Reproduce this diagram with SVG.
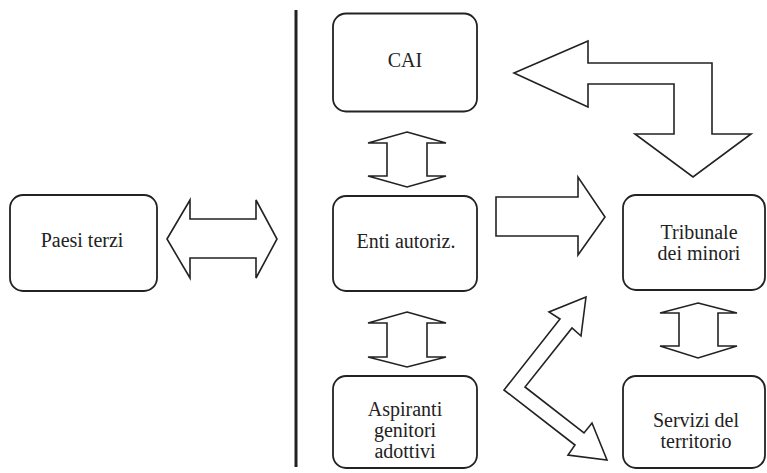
<svg xmlns="http://www.w3.org/2000/svg" width="767" height="473" viewBox="0 0 767 473">
<style>
.box{fill:#fff;stroke:#222;stroke-width:1.8}
.arr{fill:#fff;stroke:#222;stroke-width:1.6;stroke-linejoin:miter}
.t{font-family:'Liberation Serif','DejaVu Serif',serif;font-size:20px;fill:#222;text-anchor:middle}
</style>
<rect width="767" height="473" fill="#fff"/>
<line x1="296" y1="10" x2="296" y2="467" stroke="#222" stroke-width="3"/>
<g id="paesi"><rect class="box" x="10" y="195" width="147" height="96" rx="13"/><text class="t" x="82" y="247">Paesi terzi</text></g>
<g id="cai"><rect class="box" x="333" y="13.5" width="144" height="98" rx="13"/><text class="t" x="405" y="67">CAI</text></g>
<g id="enti"><rect class="box" x="333" y="196" width="144" height="95" rx="13"/><text class="t" x="406" y="248">Enti autoriz.</text></g>
<g id="aspiranti"><rect class="box" x="333" y="376" width="144" height="92" rx="13"/><text class="t" x="405" y="416">Aspiranti</text><text class="t" x="405" y="437">genitori</text><text class="t" x="405" y="458">adottivi</text></g>
<g id="tribunale"><rect class="box" x="623" y="195" width="142" height="95" rx="13"/><text class="t" x="699" y="239">Tribunale</text><text class="t" x="699" y="260">dei minori</text></g>
<g id="servizi"><rect class="box" x="623" y="376" width="142" height="92" rx="13"/><text class="t" x="696" y="427">Servizi del</text><text class="t" x="696" y="448">territorio</text></g>
<g id="connectors">
<polygon class="arr" points="167,239 190,200 190,219 256,219 256,200 277,239 256,278 256,258 190,258 190,278"/>
<polygon class="arr" points="407,132 446,143 427,143 427,176 446,176 407,187 368,176 387,176 387,143 368,143"/>
<polygon class="arr" points="407,312 446,323 427,323 427,357 446,357 407,367 368,357 387,357 387,323 368,323"/>
<polygon class="arr" points="698,303 737,313 718,313 718,346 737,346 698,358 660,346 679,346 679,313 660,313"/>
<polygon class="arr" points="496,197 578,197 578,177 605,217 578,255 578,236 496,236"/>
<polygon class="arr" points="514,73 588,41 588,63 712,63 712,134 751,134 693,177 635,134 674,134 674,84 588,84 588,107"/>
<polygon class="arr" points="586,297 581,336 572,328 525,387 584,433 592,423 607,460 568,455 575,445 504,390 560,319 549,312"/>
</g>
</svg>
